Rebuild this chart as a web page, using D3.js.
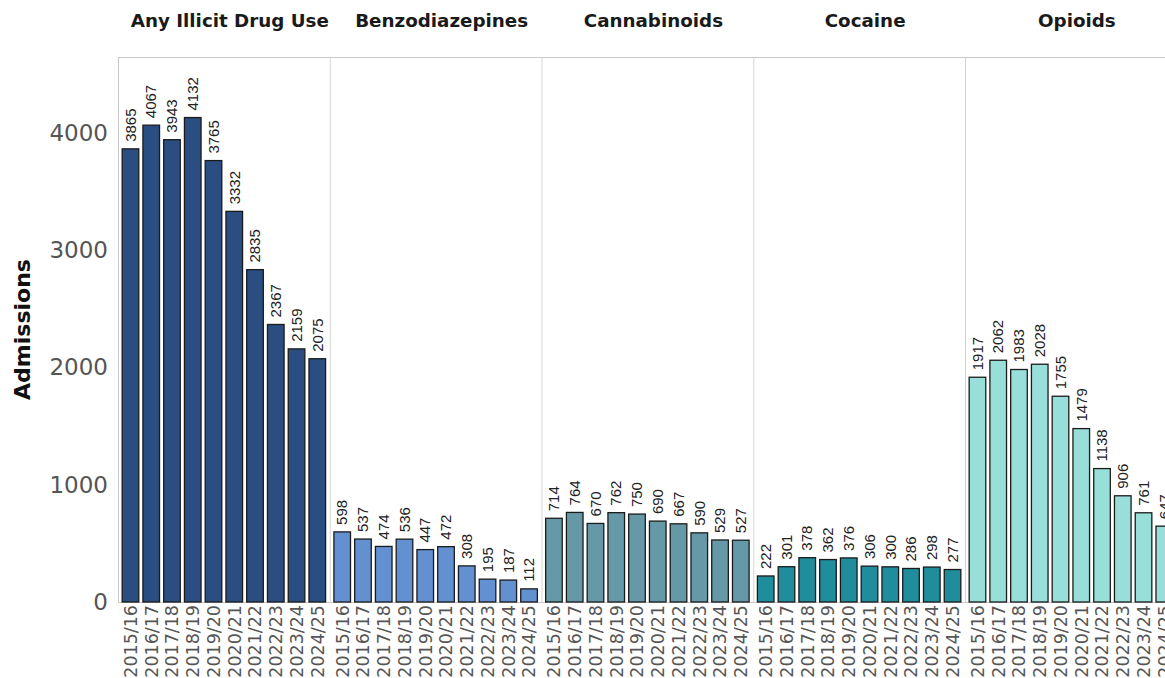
<!DOCTYPE html>
<html>
<head>
<meta charset="utf-8">
<script src="https://cdn.jsdelivr.net/npm/d3@7"></script>
<style>
  html, body { margin: 0; padding: 0; background: #fff; overflow: hidden; }
  svg { display: block; }
</style>
</head>
<body>
<div id="chart"></div>
<script>
// Admissions by drug group and financial year
const years = ["2015/16","2016/17","2017/18","2018/19","2019/20","2020/21","2021/22","2022/23","2023/24","2024/25"];
const drugGroups = ["Any Illicit Drug Use","Benzodiazepines","Cannabinoids","Cocaine","Opioids"];
const anyIllicit = [3865,4067,3943,4132,3765,3332,2835,2367,2159,2075];
const benzodiazepines = [598,537,474,536,447,472,308,195,187,112];
const cannabinoids = [714,764,670,762,750,690,667,590,529,527];
const cocaine = [222,301,378,362,376,306,300,286,298,277];
const opioids = [1917,2062,1983,2028,1755,1479,1138,906,761,647];
const groupColors = ["#2a4e82","#6290d0","#6699a8","#1f8d9c","#98dfd9"];
const yTicks = [0,1000,2000,3000,4000];

const seriesByGroup = [anyIllicit, benzodiazepines, cannabinoids, cocaine, opioids];

const W = 1165, H = 678;
const margin = { left: 118, top: 57, bottom: 76 };
const panelW = 211.75;
const plotBottom = H - margin.bottom;

const svg = d3.select("#chart").append("svg")
  .attr("width", W).attr("height", H);

const y = d3.scaleLinear()
  .domain([0, d3.max(anyIllicit) * 1.125])
  .range([plotBottom, margin.top]);

const facet = d3.scaleBand()
  .domain(drugGroups)
  .range([margin.left, margin.left + panelW * drugGroups.length]);

const x = d3.scaleBand()
  .domain(years)
  .range([0, panelW])
  .paddingInner(0.2)
  .paddingOuter(0.2);

// Y axis (labels only)
const yAxis = svg.append("g")
  .attr("transform", `translate(${margin.left},0)`)
  .call(d3.axisLeft(y).tickValues(yTicks).tickFormat(d3.format("d")).tickSize(0).tickPadding(10));
yAxis.select(".domain").remove();
yAxis.selectAll("text")
  .attr("fill", "#555")
  .style("font-family", "'DejaVu Sans', Verdana, sans-serif")
  .style("font-size", "23px");

svg.append("text")
  .attr("transform", `translate(${30},${(margin.top + plotBottom) / 2}) rotate(-90)`)
  .attr("text-anchor", "middle")
  .style("font-family", "'DejaVu Sans', Verdana, sans-serif")
  .style("font-weight", "bold")
  .style("font-size", "22px")
  .attr("fill", "#111")
  .text("Admissions");

// Plot frame
const frameRight = margin.left + panelW * drugGroups.length;
svg.append("line")
  .attr("x1", margin.left).attr("x2", frameRight)
  .attr("y1", margin.top + 0.5).attr("y2", margin.top + 0.5)
  .attr("stroke", "#c8c8c8");
svg.append("line")
  .attr("x1", margin.left).attr("x2", frameRight)
  .attr("y1", plotBottom + 0.5).attr("y2", plotBottom + 0.5)
  .attr("stroke", "#c8c8c8");

drugGroups.forEach((g, i) => {
  const x0 = facet(g);
  const panel = svg.append("g").attr("transform", `translate(${x0},0)`);
  const values = seriesByGroup[i];

  // Panel left edge
  panel.append("line")
    .attr("x1", 0.5).attr("x2", 0.5)
    .attr("y1", margin.top).attr("y2", plotBottom)
    .attr("stroke", i === 0 ? "#c8c8c8" : "#d4d4d4");

  // Facet title
  svg.append("text")
    .attr("x", x0 + panelW / 2 + 6)
    .attr("y", 27)
    .attr("text-anchor", "middle")
    .style("font-family", "'DejaVu Sans', Verdana, sans-serif")
    .style("font-weight", "bold")
    .style("font-size", "18.3px")
    .attr("fill", "#1a1a1a")
    .text(g);

  // Bars
  panel.selectAll("rect.bar")
    .data(years.map((yr, j) => ({ yr, v: values[j] })))
    .join("rect")
    .attr("class", "bar")
    .attr("x", d => x(d.yr))
    .attr("width", x.bandwidth())
    .attr("y", d => y(d.v))
    .attr("height", d => plotBottom - y(d.v))
    .attr("fill", groupColors[i])
    .attr("stroke", "#1b1b1b")
    .attr("stroke-width", 1.3);

  // Value labels
  panel.selectAll("text.val")
    .data(years.map((yr, j) => ({ yr, v: values[j] })))
    .join("text")
    .attr("class", "val")
    .attr("transform", d => `translate(${x(d.yr) + x.bandwidth() / 2},${y(d.v) - 7}) rotate(-90)`)
    .attr("dy", "0.35em")
    .attr("text-anchor", "start")
    .style("font-family", "'Liberation Sans', Arial, sans-serif")
    .style("font-size", "15px")
    .attr("fill", "#222")
    .text(d => d.v);

  // Year tick labels
  panel.selectAll("text.yr")
    .data(years)
    .join("text")
    .attr("class", "yr")
    .attr("transform", d => `translate(${x(d) + x.bandwidth() / 2},${plotBottom + 3}) rotate(-90)`)
    .attr("dy", "0.36em")
    .attr("text-anchor", "end")
    .style("font-family", "'DejaVu Sans', Verdana, sans-serif")
    .style("font-size", "17.5px")
    .attr("fill", "#555")
    .text(d => d);
});
</script>
</body>
</html>
